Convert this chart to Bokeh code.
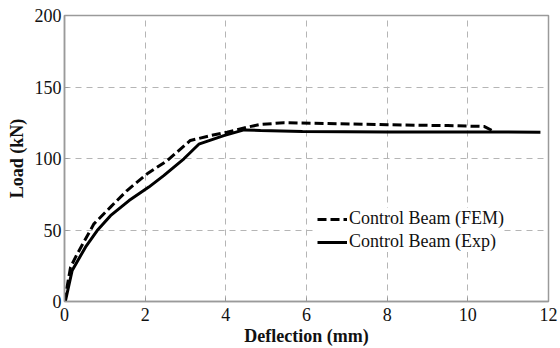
from bokeh.plotting import figure
from bokeh.models import Range1d, FixedTicker, Legend, LegendItem
from bokeh.embed import file_html
from bokeh.resources import INLINE

# Load-deflection data (mm, kN)
fem_x = [0, 0.15, 0.31, 0.73, 1.14, 1.55, 2.05, 2.55, 3.12, 3.62, 4.03, 4.53, 4.86, 5.44, 6.5, 8.0, 9.5, 10.4, 10.6]
fem_y = [0, 24, 33, 54.3, 66, 77.6, 89.3, 98.6, 112.6, 116, 118.4, 121.9, 123.8, 125, 124.5, 123.6, 123, 122.4, 119.6]

exp_x = [0, 0.02, 0.19, 0.52, 0.81, 1.14, 1.6, 2.09, 2.46, 2.96, 3.33, 3.95, 4.45, 4.86, 5.9, 8.0, 10.0, 11.8]
exp_y = [0, 0, 21.7, 38, 49.6, 60, 70.6, 80, 88, 99.8, 110, 116, 120, 119.6, 118.8, 118.6, 118.6, 118.4]

x_ticks = [0, 2, 4, 6, 8, 10, 12]
y_ticks = [0, 50, 100, 150, 200]

FONT = "Liberation Serif"

p = figure(width=560, height=348, output_backend="svg", toolbar_location=None,
           x_range=Range1d(0, 12), y_range=Range1d(0, 200),
           min_border_left=64, min_border_right=12, min_border_top=15, min_border_bottom=47)

p.background_fill_color = "white"
p.border_fill_color = "white"
p.outline_line_color = "#9a9a9a"
p.outline_line_width = 1.5

p.xaxis.ticker = FixedTicker(ticks=x_ticks)
p.yaxis.ticker = FixedTicker(ticks=y_ticks)
for ax in (p.xaxis[0], p.yaxis[0]):
    ax.axis_line_color = "#9a9a9a"
    ax.axis_line_width = 1.5
    ax.major_tick_in = 4
    ax.major_tick_out = 0
    ax.major_tick_line_color = "#9a9a9a"
    ax.minor_tick_line_color = None
    ax.major_label_text_font = FONT
    ax.major_label_text_font_size = "18px"
    ax.major_label_text_color = "#111111"
    ax.axis_label_text_font = FONT
    ax.axis_label_text_font_size = "18px"
    ax.axis_label_text_font_style = "bold"
    ax.axis_label_text_color = "#111111"

p.xaxis.axis_label = "Deflection (mm)"
p.yaxis.axis_label = "Load (kN)"
p.xaxis.major_label_standoff = 6
p.xaxis.axis_label_standoff = 2
p.yaxis.major_label_standoff = 3
p.yaxis.axis_label_standoff = 5

for g in (p.xgrid[0], p.ygrid[0]):
    g.grid_line_color = "#b5b5b5"
    g.grid_line_dash = "6 5"
    g.grid_line_width = 1

r_fem = p.line(fem_x, fem_y, line_color="black", line_width=3, line_dash="9 4")
r_exp = p.line(exp_x, exp_y, line_color="black", line_width=3)

legend = Legend(items=[LegendItem(label="Control Beam (FEM)", renderers=[r_fem]),
                       LegendItem(label="Control Beam (Exp)", renderers=[r_exp])],
                location=(253, 49))
legend.border_line_color = None
legend.background_fill_color = "white"
legend.background_fill_alpha = 1
legend.label_text_font = FONT
legend.label_text_font_size = "18px"
legend.label_text_color = "#111111"
legend.glyph_width = 30
legend.label_standoff = 2
legend.spacing = 2
legend.padding = 8
legend.margin = 0
p.add_layout(legend, "center")

open("out.html", "w").write(file_html(p, INLINE))
